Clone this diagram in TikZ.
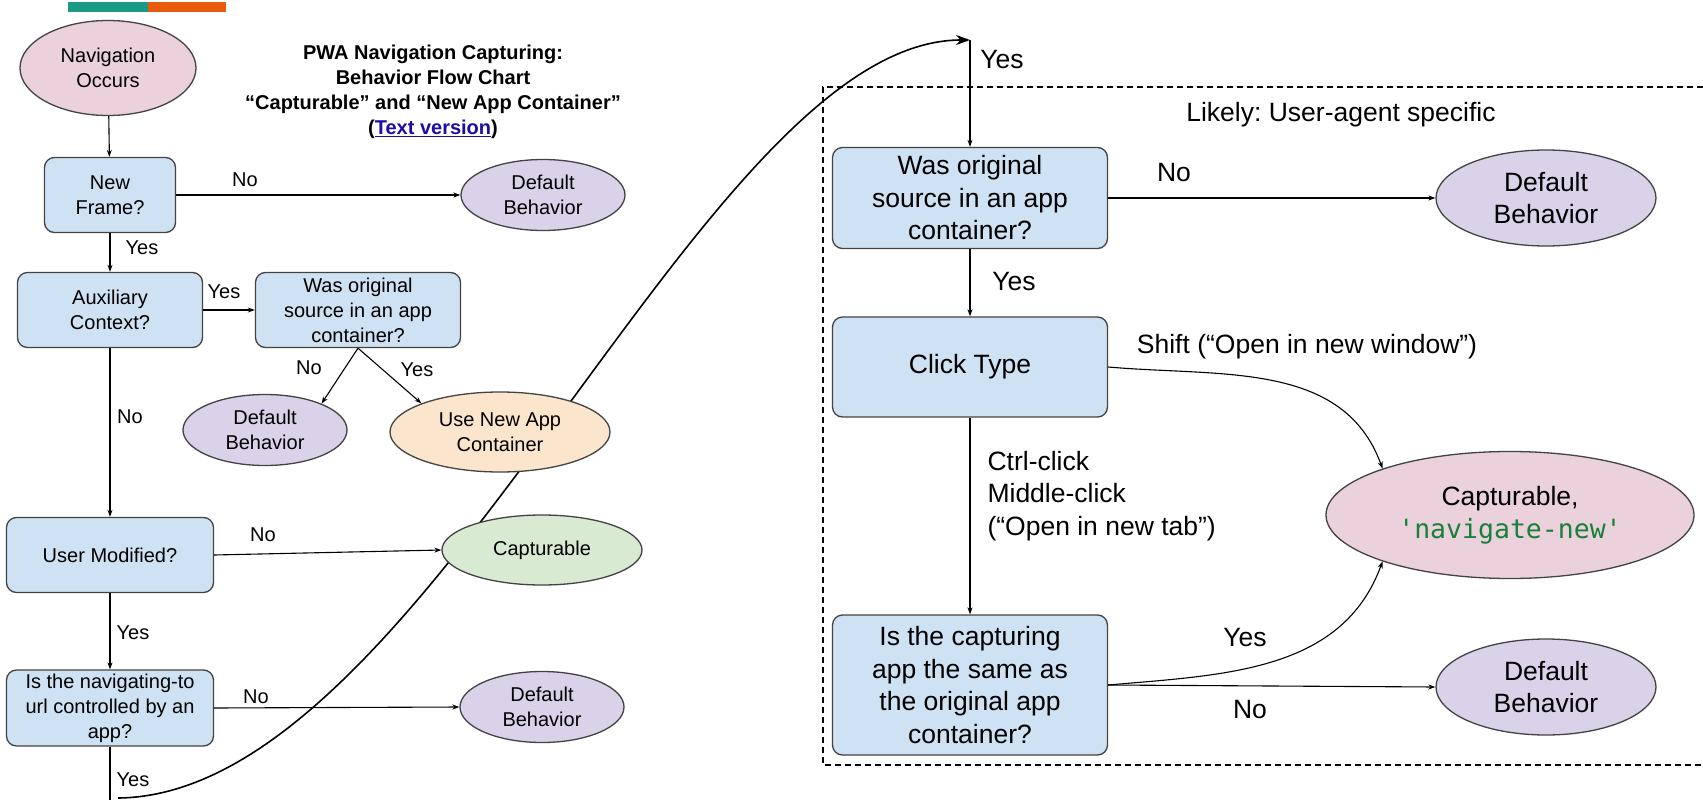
\documentclass[tikz,border=0pt]{standalone}
\usepackage{fontspec}
\setmainfont{Liberation Sans}
\newfontfamily\codefont{DejaVu Sans Mono}
\usetikzlibrary{arrows.meta,shapes.geometric}
\frenchspacing

\definecolor{qblue}{HTML}{CFE2F3}
\definecolor{qlilac}{HTML}{D9D2E9}
\definecolor{qpink}{HTML}{EAD1DC}
\definecolor{qpeach}{HTML}{FCE5CD}
\definecolor{qgreen}{HTML}{D9EAD3}
\definecolor{qedge}{HTML}{434343}
\definecolor{qteal}{HTML}{1A9985}
\definecolor{qorange}{HTML}{E85A0C}
\definecolor{qlink}{HTML}{1A0DAB}
\definecolor{qcode}{HTML}{188038}

\begin{document}
\begin{tikzpicture}[>={Stealth[length=7pt,width=5pt]}]
  % Shared looks
  \tikzset{
    decbox/.style   = {draw=qedge, line width=1.3pt, fill=qblue, rounded corners=10pt, align=center, inner sep=0pt},
    endoval/.style  = {ellipse, draw=qedge, line width=1.3pt, align=center, inner sep=0pt},
    smalltxt/.style = {font=\fontsize{20}{25}\selectfont},
    bigtxt/.style   = {font=\fontsize{26.5}{32.5}\selectfont},
    flow/.style     = {->, line width=1.1pt},
  }

  % One unit = one pixel of the chart, y grows downwards
  \begin{scope}[x=1pt,y=-1pt]
    \useasboundingbox (0,0) rectangle (1703,800);
    \fill[white] (0,0) rectangle (1703,800);

    % --- colour strip at the top ---
    \fill[qteal]   (68,2)  rectangle (148,12);
    \fill[qorange] (148,2) rectangle (226,12);

    % --- jump from the left chart to the right chart (behind the ovals) ---
    \coordinate (isnavfoot) at (110,800);
    \coordinate (jumpfrom)  at (118,798);
    \coordinate (jumpto)    at (970,40);
    \draw[line width=1.6pt, -{Stealth[length=14pt,width=10pt]}]
      (jumpfrom) .. controls (430,795) and (700,40) .. (jumpto);

    % --- user-agent specific region ---
    \draw[line width=1.2pt, dash pattern=on 6pt off 4pt] (1703,87) -- (823,87) -- (823,765) -- (1703,765);
    \node[bigtxt] (uaspec) at (1341,115) {Likely: User-agent specific};

    % --- title ---
    \node[align=center, font=\bfseries\fontsize{20}{25}\selectfont] (title) at (433,92)
      {PWA Navigation Capturing:\\Behavior Flow Chart\\“Capturable” and “New App Container”\\(\textcolor{qlink}{\underline{Text version}})};

    % --- left chart ---
    \node[endoval, smalltxt, fill=qpink, minimum width=176pt, minimum height=95pt] (navocc) at (108,68) {Navigation\\Occurs};
    \node[decbox, smalltxt, minimum width=131pt, minimum height=75pt] (newframe) at (110,195) {New\\Frame?};
    \node[decbox, smalltxt, minimum width=185pt, minimum height=75pt] (aux) at (110,310) {Auxiliary\\Context?};
    \node[decbox, smalltxt, minimum width=205pt, minimum height=75pt] (wasl) at (358,310) {Was original\\source in an app\\container?};
    \node[decbox, smalltxt, minimum width=207pt, minimum height=75pt] (usermod) at (110,555) {User Modified?};
    \node[decbox, smalltxt, minimum width=207pt, minimum height=76pt] (isnav) at (110,708) {Is the navigating-to\\url controlled by an\\app?};

    % Default Behavior ovals of the left chart
    \foreach \n/\x/\y in {defa/543/195, defb/265/430, defc/542/707}
      { \node[endoval, smalltxt, fill=qlilac, minimum width=164pt, minimum height=71pt] (\n) at (\x,\y) {Default\\Behavior}; }

    \node[endoval, smalltxt, fill=qpeach, minimum width=220pt, minimum height=80pt] (newapp) at (500,432) {Use New App\\Container};
    \node[endoval, smalltxt, fill=qgreen, minimum width=200pt, minimum height=70pt] (captl) at (542,550) {Capturable};

    % --- right chart ---
    \node[decbox, bigtxt, minimum width=275pt, minimum height=101pt] (wasr) at (970,198) {Was original\\source in an app\\container?};
    \node[decbox, bigtxt, minimum width=275pt, minimum height=100pt] (click) at (970,367) {Click Type};
    \node[decbox, bigtxt, minimum width=275pt, minimum height=140pt] (iscap) at (970,685) {Is the capturing\\app the same as\\the original app\\container?};

    \foreach \n/\y in {defr/198, defs/687}
      { \node[endoval, bigtxt, fill=qlilac, minimum width=220pt, minimum height=96pt] (\n) at (1546,\y) {Default\\Behavior}; }

    \node[endoval, bigtxt, fill=qpink, minimum width=368pt, minimum height=127pt] (captr) at (1510,515)
      {Capturable,\\{\codefont\color{qcode}\textquotesingle navigate-new\textquotesingle}};

    % --- connectors, left ---
    \draw[flow] (navocc) -- (newframe);
    \draw[flow] (newframe.east) -- (defa.west);
    \draw[flow] (newframe) -- (aux);
    \draw[flow] (aux.east) -- (wasl.west);
    \draw[flow] (wasl.south) -- (defb.25);
    \draw[flow] (wasl.south) -- (newapp.160);
    \draw[flow] (aux) -- (usermod);
    \draw[flow] (usermod.east) -- (captl.west);
    \draw[flow] (usermod) -- (isnav);
    \draw[flow] (isnav.east) -- (defc.west);
    \draw[line width=1.1pt] (isnav) -- (isnavfoot);

    % --- connectors, right ---
    \draw[flow] (jumpto) -- (wasr);
    \draw[flow] (wasr.east) -- (defr.west);
    \draw[flow] (wasr) -- (click);
    \draw[flow] (click) -- (iscap);
    \draw[flow] (iscap.east) -- (defs.west);

    % --- branch labels ---
    \node[smalltxt] (lnoa)  at (245,180) {No};
    \node[smalltxt] (lyesa) at (142,248) {Yes};
    \node[smalltxt] (lyesb) at (224,292) {Yes};
    \node[smalltxt] (lnob)  at (309,368) {No};
    \node[smalltxt] (lyesc) at (417,370) {Yes};
    \node[smalltxt] (lnoc)  at (130,417) {No};
    \node[smalltxt] (lnod)  at (263,535) {No};
    \node[smalltxt] (lyesd) at (133,633) {Yes};
    \node[smalltxt] (lnoe)  at (256,697) {No};
    \node[smalltxt] (lyese) at (133,780) {Yes};

    \node[bigtxt] (ryesa) at (1002,60)  {Yes};
    \node[bigtxt] (rnoa)  at (1174,173) {No};
    \node[bigtxt] (ryesb) at (1014,282) {Yes};
    \node[bigtxt] (rshift) at (1307,347) {Shift (“Open in new window”)};
    \node[bigtxt, align=left, anchor=west] (rctrl) at (984,496) {Ctrl-click\\Middle-click\\(“Open in new tab”)};
    \node[bigtxt] (ryesc) at (1245,638) {Yes};
    \node[bigtxt] (rnob)  at (1250,710) {No};
  \end{scope}

  % curved branches into the pink oval
  \draw[flow] (click.east) to[out=-5, in=110] (captr.160);
  \draw[flow] (iscap.east) to[out=5, in=-110] (captr.200);
\end{tikzpicture}
\end{document}
